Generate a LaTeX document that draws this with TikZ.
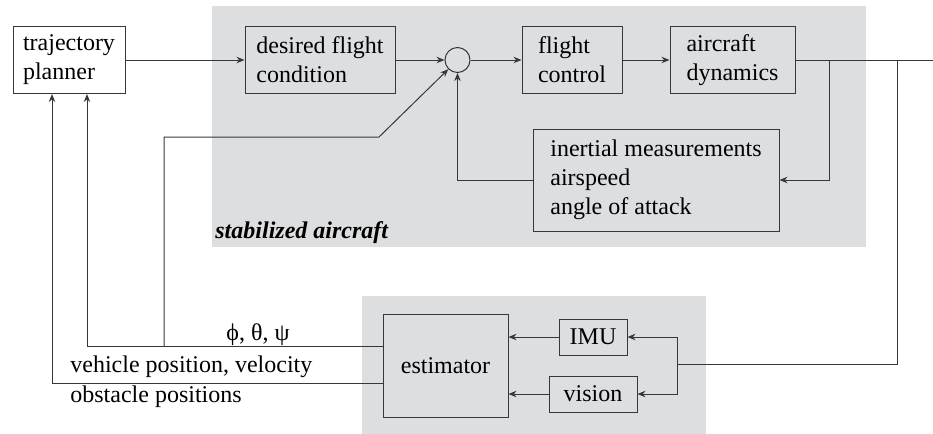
\documentclass[tikz,border=0pt]{standalone}
\usepackage{fontspec}
\setmainfont{Liberation Serif}
\usetikzlibrary{arrows.meta}
\definecolor{bggray}{RGB}{221,222,224}
\definecolor{linegray}{RGB}{55,55,55}

\begin{document}
\begin{tikzpicture}[x=0.5pt, y=-0.5pt,
    block/.style={draw=linegray, line width=0.5pt, align=left, inner sep=0pt,
                  font=\fontsize{12}{14.5}\selectfont, minimum height=33.5pt},
    lbl/.style={inner sep=0pt, font=\fontsize{12}{14.5}\selectfont},
    wire/.style={draw=linegray, line width=0.5pt},
    sig/.style={wire, -{Stealth[length=4pt,width=3.2pt]}}]
    \useasboundingbox (0,0) rectangle (933,434);

    % shaded groups
    \fill[bggray] (212,6) rectangle (866,247);
    \fill[bggray] (362,296) rectangle (706,434);
    \node[lbl, anchor=west, font=\fontsize{12}{14.5}\selectfont\bfseries\itshape] (stab) at (215,233) {stabilized aircraft};

    % blocks
    \node[block, minimum width=56pt] (planner) at (69,60) {trajectory\\planner};
    \node[block, minimum width=75pt] (desired) at (320,60) {desired flight\\condition};
    \node[circle, draw=linegray, line width=0.5pt, minimum size=12.5pt, inner sep=0pt] (sum) at (457.5,60) {};
    \node[block, minimum width=50pt] (fc) at (572,60) {flight\\control};
    \node[block, minimum width=62.5pt] (dyn) at (732.5,60) {aircraft\\dynamics};
    \node[block, minimum width=123pt, minimum height=51pt] (inertial) at (656,180) {inertial measurements\\airspeed\\angle of attack};
    \node[block, minimum width=62.5pt, minimum height=51.5pt, align=center] (est) at (445.5,365.5) {estimator};
    \node[block, minimum width=34pt, minimum height=18pt, align=center] (imu) at (593,337) {IMU};
    \node[block, minimum width=44pt, minimum height=18pt, align=center] (vision) at (593,394) {vision};

    % signal labels
    \node[lbl] (angles) at (258,335) {ϕ, θ, ψ};
    \node[lbl, anchor=west] (vel) at (70,367) {vehicle position, velocity};
    \node[lbl, anchor=west] (obs) at (70,397) {obstacle positions};

    \coordinate (out) at (933,60);
    \coordinate (j1) at (829,60);
    \coordinate (j2) at (897,60);
    \coordinate (j3) at (677,364);
    \coordinate (att) at (383,346);
    \coordinate (pos) at (383,383);
    \coordinate (br) at (164,346);
    \coordinate (k1) at (164,137);
    \coordinate (k2) at (379,137);

    % forward path
    \draw[sig] (planner.east) -- (desired.west);
    \draw[sig] (desired.east) -- (sum.west);
    \draw[sig] (sum.east) -- (fc.west);
    \draw[sig] (fc.east) -- (dyn.west);
    \draw[wire] (dyn.east) -- (out);

    % inner loop
    \draw[sig] (j1) |- (inertial.east);
    \draw[sig] (inertial.west) -| (sum.south);

    % sensors and estimator
    \draw[wire] (j2) |- (j3);
    \draw[sig] (j3) |- (imu.east);
    \draw[sig] (j3) |- (vision.east);
    \draw[sig] (imu.west) -- (imu.west -| est.east);
    \draw[sig] (vision.west) -- (vision.west -| est.east);

    % feedback to planner and controller
    \draw[sig] (att) -| ([xshift=9pt]planner.south);
    \draw[sig] (pos) -| ([xshift=-8.5pt]planner.south);
    \draw[sig] (br) -- (k1) -- (k2) -- (sum.225);
\end{tikzpicture}
\end{document}
